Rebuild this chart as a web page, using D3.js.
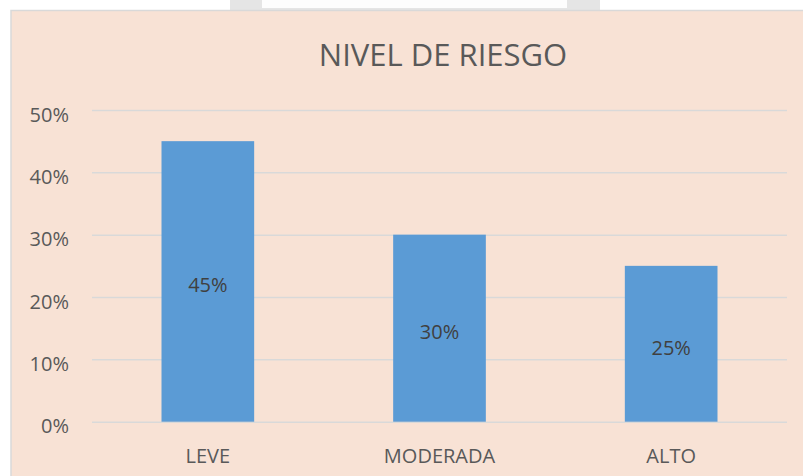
<!DOCTYPE html>
<html>
<head>
<meta charset="utf-8">
<script src="https://cdn.jsdelivr.net/npm/d3@7"></script>
<style>
  body { margin: 0; background: #fff; }
  svg { display: block; font-family: 'Open Sans', sans-serif; }
</style>
</head>
<body>
<svg id="chart"></svg>
<script>
const categories = ['LEVE', 'MODERADA', 'ALTO']
const values = [0.45, 0.30, 0.25]
const yTicks = [0, 0.1, 0.2, 0.3, 0.4, 0.5]
const title = 'NIVEL DE RIESGO'

const svgWidth = 803
const svgHeight = 476
const plot = { left: 92, right: 787, top: 110, bottom: 421.7 }

const svg = d3.select('#chart')
  .attr('width', svgWidth)
  .attr('height', svgHeight)

// bit of the window above the chart
svg.append('rect')
  .attr('x', 230).attr('y', 0).attr('width', 370).attr('height', 10)
  .attr('fill', '#e5e5e5')
svg.append('rect')
  .attr('x', 262).attr('y', 0).attr('width', 305).attr('height', 8)
  .attr('fill', '#fdfdfd')

// chart area
svg.append('rect')
  .attr('x', 11).attr('y', 10.5)
  .attr('width', 820).attr('height', 480)
  .attr('fill', '#f8e2d5')
  .attr('stroke', '#d9d9d9')
  .attr('stroke-width', 1.5)

svg.append('text')
  .attr('x', 443)
  .attr('y', 66)
  .attr('text-anchor', 'middle')
  .attr('font-size', 31)
  .attr('fill', '#595959')
  .text(title)

const x = d3.scaleBand()
  .domain(categories)
  .range([plot.left, plot.right])
  .paddingInner(0.6)
  .paddingOuter(0.3)

const y = d3.scaleLinear()
  .domain([0, 0.5])
  .range([plot.bottom, plot.top])

// gridlines + y labels
const yAxis = d3.axisLeft(y)
  .tickValues(yTicks)
  .tickFormat(d3.format('.0%'))
  .tickSize(-(plot.right - plot.left))
  .tickPadding(23)

const gy = svg.append('g')
  .attr('transform', `translate(${plot.left},0)`)
  .call(yAxis)
gy.select('.domain').remove()
gy.selectAll('.tick line')
  .attr('stroke', '#d9d9d9')
  .attr('stroke-width', 1.5)
gy.selectAll('.tick text')
  .attr('font-size', 20)
  .attr('font-family', 'Open Sans, sans-serif')
  .attr('fill', '#595959')
  .attr('dy', '0.55em')
  .attr('y', 0)

// bars
svg.append('g')
  .selectAll('rect')
  .data(values)
  .join('rect')
  .attr('x', (d, i) => x(categories[i]))
  .attr('y', (d) => y(d))
  .attr('width', x.bandwidth())
  .attr('height', (d) => y(0) - y(d))
  .attr('fill', '#5b9bd5')

// data labels
svg.append('g')
  .selectAll('text')
  .data(values)
  .join('text')
  .attr('x', (d, i) => x(categories[i]) + x.bandwidth() / 2)
  .attr('y', (d) => (y(d) + y(0)) / 2 + 11)
  .attr('text-anchor', 'middle')
  .attr('font-size', 20)
  .attr('fill', '#404040')
  .text((d) => d3.format('.0%')(d))

// x labels
const xAxis = d3.axisBottom(x).tickSize(0).tickPadding(0)
const gx = svg.append('g')
  .attr('transform', `translate(0,${plot.bottom})`)
  .call(xAxis)
gx.select('.domain').remove()
gx.selectAll('.tick text')
  .attr('font-size', 20)
  .attr('font-family', 'Open Sans, sans-serif')
  .attr('fill', '#595959')
  .attr('y', 41)
  .attr('dy', 0)
</script>
</body>
</html>
